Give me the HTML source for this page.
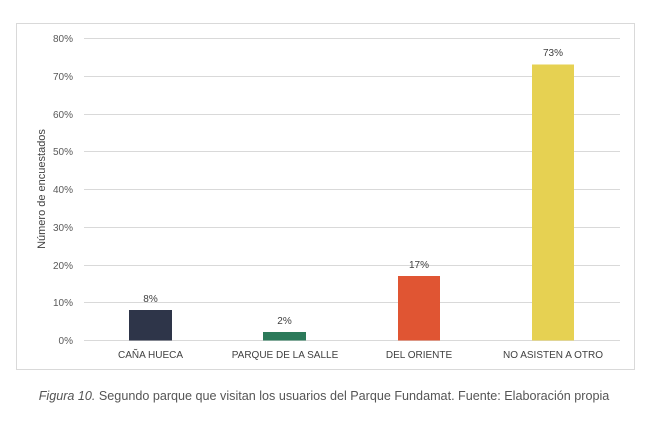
<!DOCTYPE html>
<html><head><meta charset="utf-8"><style>
body{margin:0;background:#fff;}
svg{display:block;font-family:"Liberation Sans",sans-serif;}
</style></head><body>
<svg width="650" height="424" xmlns="http://www.w3.org/2000/svg">
<rect x="16.5" y="23.5" width="618" height="346" fill="#fff" stroke="#d9d9d9"/>
<g stroke="#d9d9d9" stroke-width="1">
<line x1="84" x2="620" y1="38.5" y2="38.5"/>
<line x1="84" x2="620" y1="76.5" y2="76.5"/>
<line x1="84" x2="620" y1="114.5" y2="114.5"/>
<line x1="84" x2="620" y1="151.5" y2="151.5"/>
<line x1="84" x2="620" y1="189.5" y2="189.5"/>
<line x1="84" x2="620" y1="227.5" y2="227.5"/>
<line x1="84" x2="620" y1="265.5" y2="265.5"/>
<line x1="84" x2="620" y1="302.5" y2="302.5"/>
<line x1="84" x2="620" y1="340.5" y2="340.5"/>
</g>
<g fill="#595959" font-size="10" text-anchor="end">
<text x="73" y="42">80%</text><text x="73" y="80">70%</text><text x="73" y="118">60%</text>
<text x="73" y="155">50%</text><text x="73" y="193">40%</text><text x="73" y="231">30%</text>
<text x="73" y="269">20%</text><text x="73" y="306">10%</text><text x="73" y="344">0%</text>
</g>
<text transform="translate(45,189) rotate(-90)" text-anchor="middle" font-size="11" fill="#404040">Número de encuestados</text>
<rect x="129" y="310" width="43" height="30.5" fill="#2e3549"/>
<rect x="263" y="332" width="43" height="8.5" fill="#2c7a5a"/>
<rect x="398" y="276" width="42" height="64.5" fill="#e05533"/>
<rect x="532" y="64.5" width="42" height="276" fill="#e6d152"/>
<g fill="#404040" font-size="10" text-anchor="middle">
<text x="150.5" y="302">8%</text><text x="284.5" y="324">2%</text>
<text x="419" y="268">17%</text><text x="553" y="56">73%</text>
</g>
<g fill="#404040" font-size="10" text-anchor="middle">
<text x="150.5" y="358">CAÑA HUECA</text><text x="285" y="358">PARQUE DE LA SALLE</text>
<text x="419" y="358">DEL ORIENTE</text><text x="553" y="358">NO ASISTEN A OTRO</text>
</g>
<text x="324" y="400" text-anchor="middle" font-size="12.6" fill="#555"><tspan font-style="italic">Figura 10.</tspan> Segundo parque que visitan los usuarios del Parque Fundamat. Fuente: Elaboración propia</text>
</svg>
</body></html>
